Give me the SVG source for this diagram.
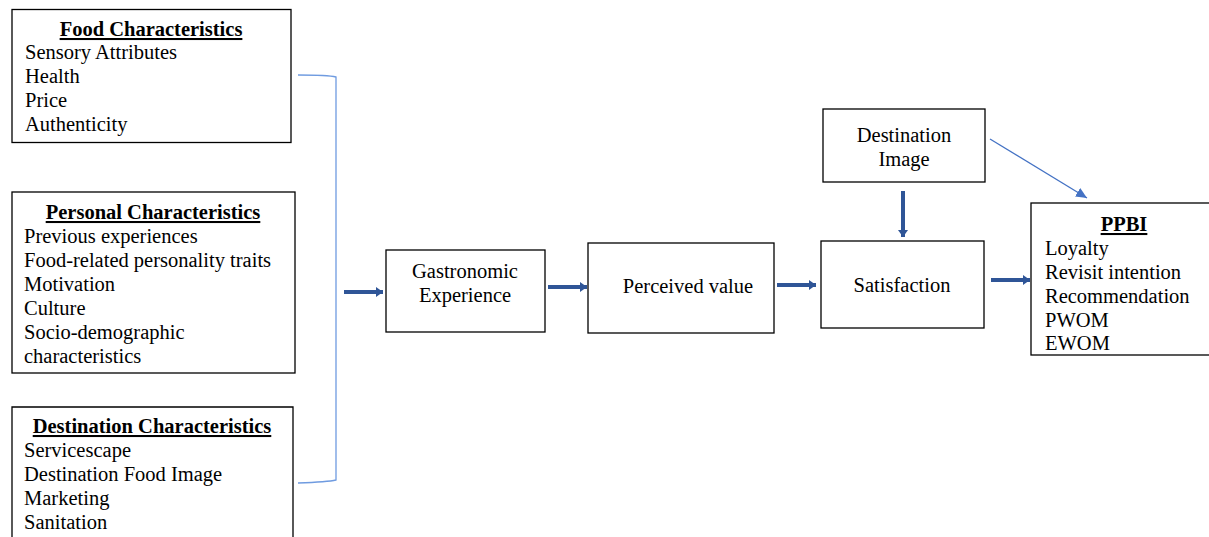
<svg xmlns="http://www.w3.org/2000/svg" width="1209" height="537" viewBox="0 0 1209 537">
<style>
.box{fill:#fff;stroke:#000;stroke-width:1.3}
text{font-family:"Liberation Serif","Times New Roman",serif;font-size:20.5px;fill:#000}
.t{font-weight:bold;text-decoration:underline;text-anchor:middle}
.c{text-anchor:middle}
.thick{stroke:#2F5597;stroke-width:4;fill:none}
.thin{stroke:#4472C4;stroke-width:1.3;fill:none}
</style>
<defs>
<marker id="ah" markerUnits="userSpaceOnUse" markerWidth="8" markerHeight="12" refX="7" refY="6" orient="auto">
<path d="M0,1 L7,6 L0,11 Z" fill="#2F5597"/>
</marker>
<marker id="ahThin" markerUnits="userSpaceOnUse" markerWidth="12" markerHeight="12" refX="11" refY="6" orient="auto">
<path d="M0,1 L11,6 L0,11 Z" fill="#4472C4"/>
</marker>
</defs>

<g id="food">
<rect class="box" x="12" y="9.5" width="279" height="133"/>
<text class="t" x="151" y="36">Food Characteristics</text>
<text x="25" y="59">Sensory Attributes</text>
<text x="25" y="83">Health</text>
<text x="25" y="107">Price</text>
<text x="25" y="131">Authenticity</text>
</g>

<g id="personal">
<rect class="box" x="12" y="192" width="283" height="181"/>
<text class="t" x="153" y="219">Personal Characteristics</text>
<text x="24" y="243">Previous experiences</text>
<text x="24" y="267">Food-related personality traits</text>
<text x="24" y="291">Motivation</text>
<text x="24" y="315">Culture</text>
<text x="24" y="339">Socio-demographic</text>
<text x="24" y="363">characteristics</text>
</g>

<g id="destination">
<path class="box" d="M12,538 V407 H293 V538"/>
<text class="t" x="152" y="433">Destination Characteristics</text>
<text x="24" y="457">Servicescape</text>
<text x="24" y="481">Destination Food Image</text>
<text x="24" y="505">Marketing</text>
<text x="24" y="529">Sanitation</text>
</g>

<g id="gastronomic">
<rect class="box" x="386" y="250" width="159" height="82"/>
<text class="c" x="465" y="278">Gastronomic</text>
<text class="c" x="465" y="302">Experience</text>
</g>

<g id="perceived">
<rect class="box" x="588" y="243" width="186" height="90"/>
<text class="c" x="688" y="293">Perceived value</text>
</g>

<g id="satisfaction">
<rect class="box" x="821" y="241" width="163" height="87"/>
<text class="c" x="902" y="292">Satisfaction</text>
</g>

<g id="destimage">
<rect class="box" x="823" y="109" width="162" height="73"/>
<text class="c" x="904" y="142">Destination</text>
<text class="c" x="904" y="166">Image</text>
</g>

<g id="ppbi">
<rect class="box" x="1031" y="203" width="185" height="152"/>
<text class="t" x="1124" y="231">PPBI</text>
<text x="1045" y="255">Loyalty</text>
<text x="1045" y="279">Revisit intention</text>
<text x="1045" y="303">Recommendation</text>
<text x="1045" y="327">PWOM</text>
<text x="1045" y="350">EWOM</text>
</g>

<g id="connectors">
<path d="M298,75 Q328,75 336,77 V480 Q328,482 298,483" stroke="#6F9BE0" stroke-width="1.3" fill="none"/>
<line class="thick" x1="344" y1="292" x2="383" y2="292" marker-end="url(#ah)"/>
<line class="thick" x1="548" y1="287" x2="587" y2="287" marker-end="url(#ah)"/>
<line class="thick" x1="777" y1="285" x2="816" y2="285" marker-end="url(#ah)"/>
<line class="thick" x1="991" y1="280" x2="1030" y2="280" marker-end="url(#ah)"/>
<line class="thick" x1="903" y1="191" x2="903" y2="237" marker-end="url(#ah)"/>
<line class="thin" x1="990" y1="139" x2="1087" y2="198" marker-end="url(#ahThin)"/>
</g>
</svg>
